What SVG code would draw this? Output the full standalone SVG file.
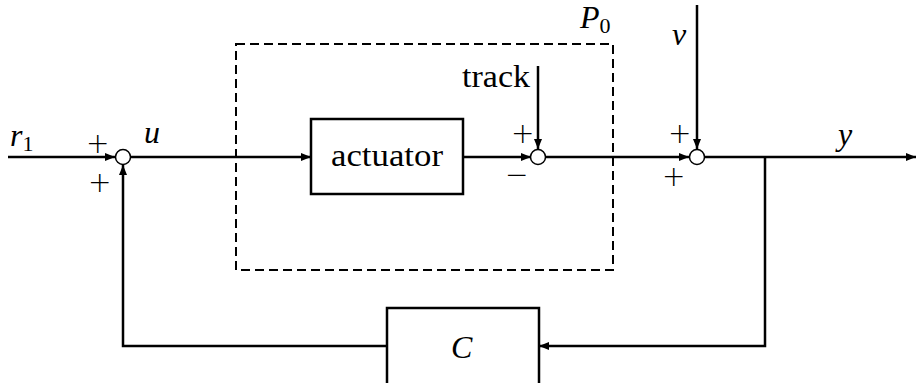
<svg xmlns="http://www.w3.org/2000/svg" width="916" height="383" viewBox="0 0 916 383">
<style>
.ln{fill:none;stroke:#000;stroke-width:2.5}
.bx{fill:#fff;stroke:#000;stroke-width:2.5}
.sj{fill:#fff;stroke:#000;stroke-width:1.5}
.t{font-family:"Liberation Serif","DejaVu Serif",serif;font-size:31px;fill:#000}
.m{font-family:"Liberation Serif","DejaVu Serif",serif;font-size:32px;font-style:italic;fill:#000}
.s{font-family:"Liberation Serif","DejaVu Serif",serif;font-size:22px;fill:#000}
.pm{font-family:"DejaVu Sans","Liberation Sans",sans-serif;font-size:28px;font-weight:200;fill:#000}
</style>
<defs>
<marker id="ah" viewBox="0 0 10 8" refX="10" refY="4" markerWidth="10" markerHeight="8" markerUnits="userSpaceOnUse" orient="auto">
<path d="M0,0 L10,4 L0,8 Z" fill="#000"/>
</marker>
</defs>
<g id="plant-boundary">
<rect x="236" y="44" width="377" height="226" fill="none" stroke="#000" stroke-width="2" stroke-dasharray="9 5"/>
<text class="m" x="580" y="28">P<tspan class="s" font-style="normal" dy="5">0</tspan></text>
</g>
<g id="connectors">
<line class="ln" x1="8" y1="157" x2="115" y2="157" marker-end="url(#ah)"/>
<line class="ln" x1="130" y1="157" x2="311" y2="157" marker-end="url(#ah)"/>
<line class="ln" x1="463" y1="157" x2="531" y2="157" marker-end="url(#ah)"/>
<line class="ln" x1="538" y1="66" x2="538" y2="149" marker-end="url(#ah)"/>
<line class="ln" x1="546" y1="157" x2="689" y2="157" marker-end="url(#ah)"/>
<line class="ln" x1="697" y1="5" x2="697" y2="149" marker-end="url(#ah)"/>
<line class="ln" x1="705" y1="157" x2="916" y2="157" marker-end="url(#ah)"/>
<polyline class="ln" points="765,157 765,346 539,346" marker-end="url(#ah)"/>
<polyline class="ln" points="387,346 123,346 123,165" marker-end="url(#ah)"/>
</g>
<g id="sum1">
<circle class="sj" cx="123" cy="157" r="7.5"/>
<text class="pm" x="86" y="153">+</text>
<text class="pm" x="88" y="192">+</text>
</g>
<g id="actuator">
<rect class="bx" x="311" y="119" width="152" height="75"/>
<text class="t" x="331" y="166" textLength="112" lengthAdjust="spacingAndGlyphs">actuator</text>
</g>
<g id="sum2">
<circle class="sj" cx="538" cy="157" r="7.5"/>
<text class="pm" x="511" y="143">+</text>
<text class="pm" x="505" y="184">−</text>
<text class="t" x="462" y="87" textLength="68" lengthAdjust="spacingAndGlyphs">track</text>
</g>
<g id="sum3">
<circle class="sj" cx="697" cy="157" r="7.5"/>
<text class="pm" x="668" y="143">+</text>
<text class="pm" x="662" y="186">+</text>
</g>
<g id="controller">
<rect class="bx" x="387" y="308" width="152" height="80"/>
<text class="m" x="451" y="358">C</text>
</g>
<g id="labels">
<text class="m" x="10" y="146">r<tspan class="s" font-style="normal" dy="5">1</tspan></text>
<text class="m" x="144" y="143">u</text>
<text class="m" x="672" y="45">v</text>
<text class="m" x="838" y="145">y</text>
</g>
</svg>
